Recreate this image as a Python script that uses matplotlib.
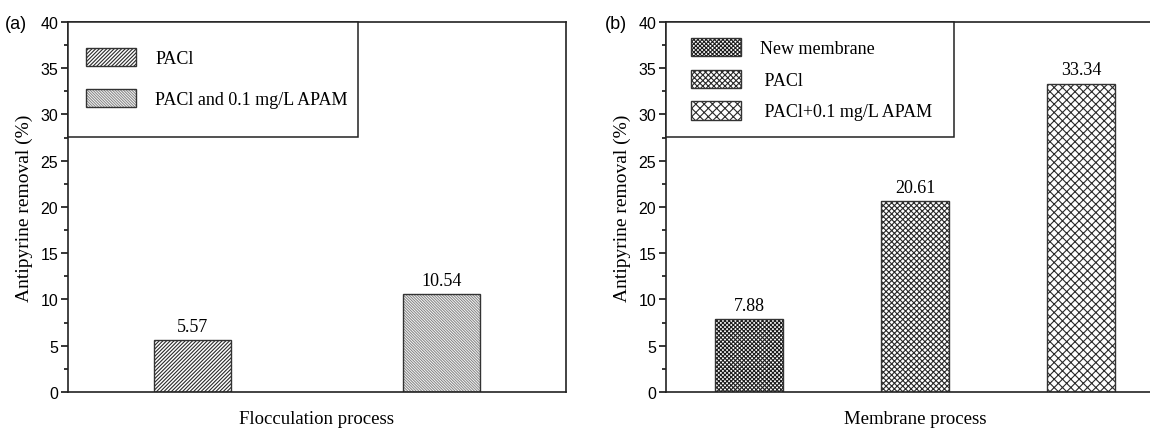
import matplotlib
matplotlib.use("Agg")
import matplotlib.pyplot as plt
from matplotlib.patches import Patch, Rectangle
from matplotlib.ticker import MultipleLocator
import numpy as np

# values
floc_labels = ["PACl", "PACl and 0.1 mg/L APAM"]
floc_values = [5.57, 10.54]
floc_hatches = ["/////////", "\\\\\\\\\\\\\\\\\\\\\\\\"]
floc_hatch_colors = ["#2a2a2a", "#8a8a8a"]

memb_labels = ["New membrane", " PACl", " PACl+0.1 mg/L APAM"]
memb_values = [7.88, 20.61, 33.34]
memb_hatches = ["xxxxxxxx", "xxxxxx", "xxxx"]
memb_hatch_colors = ["#1e1e1e", "#2a2a2a", "#2a2a2a"]

SERIF = "Liberation Serif"
SANS = "Liberation Sans"
plt.rcParams["hatch.linewidth"] = 0.8

fig = plt.figure(figsize=(11.5, 4.31), dpi=100)
ax_a = fig.add_axes([0.0591, 0.0882, 0.433, 0.8585])
ax_b = fig.add_axes([0.5791, 0.0882, 0.433, 0.8585])


def draw_panel(ax, labels, values, hatches, hcolors, width, xlabel,
               box_w, leg_x, leg_top, lspace):
    x = np.arange(len(values)) + 0.5
    handles = []
    for xi, v, h, hc, lab in zip(x, values, hatches, hcolors, labels):
        # hatch drawn in its own colour, outline drawn on top in dark grey
        ax.bar(xi, v, width, color="white", edgecolor=hc, hatch=h, linewidth=0)
        ax.bar(xi, v, width, color="none", edgecolor="#333333", linewidth=1.0)
        ax.annotate(f"{v:.2f}", (xi, v), xytext=(0, 4), textcoords="offset points",
                    ha="center", va="bottom", fontsize=13, family=SERIF)
        hp = Patch(facecolor="white", edgecolor=hc, hatch=h, linewidth=0)
        op = Patch(facecolor="none", edgecolor="#333333", linewidth=1.0)
        handles.append((hp, op))

    ax.set_xlim(0, len(values))
    ax.set_ylim(0, 40)
    ax.yaxis.set_major_locator(MultipleLocator(5))
    ax.yaxis.set_minor_locator(MultipleLocator(2.5))
    ax.set_xticks([])
    ax.tick_params(axis="y", which="major", direction="out", length=5, width=1.1,
                   labelsize=11.5, pad=2)
    ax.tick_params(axis="y", which="minor", direction="out", length=3, width=1.1)
    for lbl in ax.get_yticklabels():
        lbl.set_family(SANS)
    for s in ax.spines.values():
        s.set_linewidth(1.2)
        s.set_color("#222222")

    ax.set_ylabel("Antipyrine removal (%)", fontsize=14, family=SERIF, labelpad=5)
    ax.set_xlabel(xlabel, fontsize=13.5, family=SERIF, labelpad=13)

    # legend box drawn as its own rectangle in the upper left corner
    box = Rectangle((0, 0.689), box_w, 0.311, transform=ax.transAxes,
                    facecolor="white", edgecolor="#222222", linewidth=1.1,
                    zorder=4, clip_on=False)
    ax.add_patch(box)
    leg = ax.legend(handles, labels, loc="upper left", bbox_to_anchor=(leg_x, leg_top),
                    borderaxespad=0, borderpad=0, frameon=False,
                    handlelength=2.8, handleheight=1.2, handletextpad=1.05,
                    labelspacing=lspace, prop={"family": SERIF, "size": 13})
    leg.set_zorder(5)


draw_panel(ax_a, floc_labels, floc_values, floc_hatches, floc_hatch_colors, 0.31,
           "Flocculation process", 0.582, 0.036, 0.93, 1.2)
draw_panel(ax_b, memb_labels, memb_values, memb_hatches, memb_hatch_colors, 0.41,
           "Membrane process", 0.578, 0.05, 0.957, 0.68)

fig.text(0.004, 0.942, "(a)", fontsize=13, family=SANS, ha="left", va="center")
fig.text(0.526, 0.942, "(b)", fontsize=13, family=SANS, ha="left", va="center")

fig.savefig("out.png", dpi=100, facecolor="white")
